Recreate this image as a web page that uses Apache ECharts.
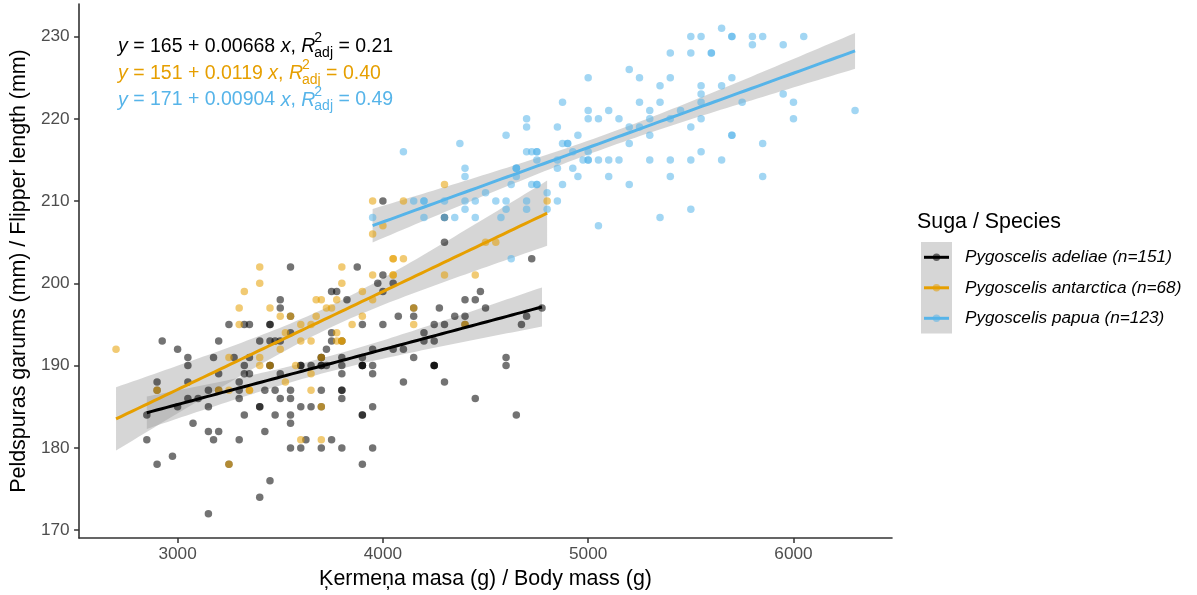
<!DOCTYPE html>
<html><head><meta charset="utf-8">
<script src="https://cdn.jsdelivr.net/npm/echarts@6/dist/echarts.min.js"></script>
<style>html,body{margin:0;padding:0;background:#fff}#c{width:1197px;height:595px}</style>
</head><body><div id="c"></div><script>
// ---------- data ----------
const speciesLabels = ['Pygoscelis adeliae (n=151)', 'Pygoscelis antarctica (n=68)', 'Pygoscelis papua (n=123)'];
const speciesColors = ['#000000', '#E69F00', '#56B4E9'];

const adelieMass = [3750,3800,3250,3450,3650,3625,4675,3475,4250,3300,3700,3200,3800,4400,3700,3450,4500,3325,4200,3400,3600,3800,3950,3800,3800,3550,3200,3150,3950,3250,3900,3300,3900,3325,4150,3950,3550,3300,4650,3150,3900,3100,4400,3000,4600,3425,2975,3450,4150,3500,4300,3450,4050,2900,3700,3550,3800,2850,3750,3150,4400,3600,4050,2850,3950,3350,4100,3050,4450,3600,3900,3550,4150,3700,4250,3700,3900,3550,4000,3200,4700,3800,4200,3350,3550,3800,3500,3950,3600,3550,4300,3400,4450,3300,4300,3700,4350,2900,4100,3725,4725,3075,4250,2925,3550,3750,3900,3175,4775,3825,4600,3200,4275,3900,4075,2900,3775,3350,3325,3150,3500,3450,3875,3050,4000,3275,4300,3050,4000,3325,3500,3500,4475,3425,3900,3175,3975,3400,4250,3400,3475,3050,3725,3000,3650,4250,3475,3450,3750,3700,4000];
const adelieFlipper = [181,186,195,193,190,181,195,193,190,186,180,182,191,198,185,195,197,184,194,174,180,189,185,180,187,183,187,172,180,178,178,188,184,195,196,190,180,181,184,182,195,186,196,185,190,182,179,190,191,186,188,190,200,187,191,186,193,181,194,185,195,185,192,184,192,195,188,190,198,190,190,196,197,190,195,191,184,187,195,189,196,187,193,191,194,190,189,189,190,202,205,185,186,187,208,190,196,178,192,192,203,183,190,193,184,199,190,181,197,198,191,193,197,191,196,188,199,189,189,187,198,176,202,186,199,191,195,191,210,190,197,193,199,187,190,191,200,185,193,193,187,188,190,192,185,190,184,195,193,187,201];

const chinstrapMass = [3500,3900,3650,3525,3725,3950,3250,3750,4150,3700,3800,3775,3700,4050,3575,4050,3300,3700,3450,4400,3600,3400,2900,3800,3300,4150,3400,3800,3700,4550,3200,4300,3350,4100,3600,3900,3850,4800,2700,4500,3950,3650,3550,3500,3675,4450,3400,4300,3250,3675,3325,3950,3600,4050,3350,3450,3250,4050,3800,3525,3950,3650,3650,4000,3400,3775,4100,3775];
const chinstrapFlipper = [192,196,193,188,197,198,178,197,195,198,193,194,185,201,190,201,197,181,190,195,181,191,187,193,195,197,200,200,191,205,187,201,187,203,195,199,195,210,192,205,210,187,196,196,196,201,190,212,187,198,199,201,193,203,187,197,191,203,202,194,206,189,195,207,202,193,210,198];

const gentooMass = [4500,5700,4450,5700,5400,4550,4800,5200,4400,5150,4650,5550,4650,5850,4200,5850,4150,6300,4800,5350,5700,5000,4400,5050,5000,5100,4100,5650,4600,5550,5250,4700,5050,6050,5150,5400,4950,5250,4350,5350,3950,5700,4300,4750,5550,4900,4200,5400,5100,5300,4850,5300,4400,5000,4900,5050,4300,5000,4450,5550,4200,5300,4400,5650,4700,5700,4650,5800,4700,5550,4750,5000,5100,5200,4700,5800,4600,6000,4750,5950,4625,5450,4725,5350,4750,5600,4600,5300,4875,5550,4950,5400,4750,5650,4850,5200,4925,4875,4625,5250,4850,5600,4975,5500,4725,5500,4700,5500,4575,5500,5000,5950,4650,5500,4375,5850,4875,6000,4925,4850,5750,5200,5400];
const gentooFlipper = [211,230,210,218,215,210,211,219,209,215,214,216,214,213,210,217,210,221,209,222,218,215,213,215,215,215,216,215,210,220,222,209,207,230,220,220,213,219,208,208,208,225,210,216,222,217,210,225,213,215,210,220,210,225,217,220,208,220,208,224,208,221,214,231,219,230,214,229,220,223,216,221,221,217,216,230,209,220,215,223,212,221,212,224,212,228,218,218,212,230,218,228,212,224,214,226,216,222,203,225,219,228,215,228,216,215,210,219,208,209,216,229,213,230,217,230,217,222,214,215,222,212,213];

const eqIntercept = ['165', '151', '171'];
const eqSlope = ['0.00668', '0.0119', '0.00904'];
const eqR2 = ['0.21', '0.40', '0.49'];

const xTickValues = [3000, 4000, 5000, 6000];
const yTickValues = [170, 180, 190, 200, 210, 220, 230];
const xTitle = 'Ķermeņa masa (g) / Body mass (g)';
const yTitle = 'Peldspuras garums (mm) / Flipper length (mm)';
const legendTitle = 'Suga / Species';

// ---------- helpers ----------
const FONT = '"Liberation Sans", Arial, sans-serif';
const groups = [[adelieMass, adelieFlipper], [chinstrapMass, chinstrapFlipper], [gentooMass, gentooFlipper]];

function tQuant(df) {
  const z = 1.959963985;
  return z + (z*z*z + z) / (4*df) + (5*Math.pow(z,5) + 16*z*z*z + 3*z) / (96*df*df)
    + (3*Math.pow(z,7) + 19*Math.pow(z,5) + 17*z*z*z - 15*z) / (384*df*df*df);
}
function fitBand(xs, ys) {
  const n = xs.length;
  let xb = 0, yb = 0;
  for (let i = 0; i < n; i++) { xb += xs[i]; yb += ys[i]; }
  xb /= n; yb /= n;
  let sxx = 0, sxy = 0;
  for (let i = 0; i < n; i++) { sxx += (xs[i]-xb)*(xs[i]-xb); sxy += (xs[i]-xb)*(ys[i]-yb); }
  const b = sxy / sxx, a = yb - b*xb;
  let sse = 0;
  for (let i = 0; i < n; i++) { const r = ys[i] - a - b*xs[i]; sse += r*r; }
  const s = Math.sqrt(sse / (n-2));
  const t = tQuant(n-2);
  const lo = Math.min(...xs), hi = Math.max(...xs);
  const out = [];
  for (let k = 0; k < 80; k++) {
    const x = lo + (hi-lo)*k/79;
    const f = a + b*x;
    const se = s*Math.sqrt(1/n + (x-xb)*(x-xb)/sxx);
    out.push([x, f, f - t*se, f + t*se]);
  }
  return out;
}
const bands = groups.map(g => fitBand(g[0], g[1]));

// ---------- series ----------
const series = [];
groups.forEach((g, i) => {
  series.push({
    type: 'scatter', name: speciesLabels[i],
    data: g[0].map((m, k) => [m, g[1][k]]),
    symbolSize: 7.5,
    itemStyle: { color: speciesColors[i], opacity: 0.55 },
    silent: true
  });
});
bands.forEach((band, i) => {
  series.push({
    type: 'custom', name: speciesLabels[i] + ' CI',
    data: band.map(b => [b[0], b[2], b[3]]),
    encode: { x: 0, y: [1, 2] },
    silent: true,
    renderItem(params, api) {
      if (params.dataIndex !== 0) return null;
      const pts = [];
      for (const b of band) pts.push(api.coord([b[0], b[3]]));
      for (let k = band.length - 1; k >= 0; k--) pts.push(api.coord([band[k][0], band[k][2]]));
      return { type: 'polygon', shape: { points: pts }, style: { fill: 'rgba(153,153,153,0.4)' } };
    }
  });
  series.push({
    type: 'line', name: speciesLabels[i] + ' fit',
    data: band.map(b => [b[0], b[1]]),
    showSymbol: false, silent: true,
    lineStyle: { color: speciesColors[i], width: 3 },
    itemStyle: { color: speciesColors[i] }
  });
});

// ---------- annotation (equations) ----------
const mctx = document.createElement('canvas').getContext('2d');
function tw(text, size, italic) {
  mctx.font = (italic ? 'italic ' : '') + size + 'px ' + FONT;
  return mctx.measureText(text).width;
}
const graphics = [];
const EQ = 19.5, SS = 14;
for (let i = 0; i < 3; i++) {
  const cy = 46.3 + i*26.9;
  let x = 118;
  const segs = [['y', true], [' = ' + eqIntercept[i] + ' + ' + eqSlope[i] + ' ', false], ['x', true], [', ', false], ['R', true]];
  for (const [t, it] of segs) {
    graphics.push({ type: 'text', x: x, y: cy, silent: true,
      style: { text: t, fill: speciesColors[i], font: (it ? 'italic ' : '') + EQ + 'px ' + FONT, textVerticalAlign: 'middle', textAlign: 'left' } });
    x += tw(t, EQ, it);
  }
  x -= 1;
  graphics.push({ type: 'text', x: x, y: cy - 8, silent: true,
    style: { text: '2', fill: speciesColors[i], font: SS + 'px ' + FONT, textVerticalAlign: 'middle' } });
  graphics.push({ type: 'text', x: x, y: cy + 6.5, silent: true,
    style: { text: 'adj', fill: speciesColors[i], font: SS + 'px ' + FONT, textVerticalAlign: 'middle' } });
  x += Math.max(tw('2', SS, false), tw('adj', SS, false));
  graphics.push({ type: 'text', x: x, y: cy, silent: true,
    style: { text: ' = ' + eqR2[i], fill: speciesColors[i], font: EQ + 'px ' + FONT, textVerticalAlign: 'middle' } });
}

// ---------- legend (drawn) ----------
graphics.push({ type: 'text', x: 917, y: 222, silent: true,
  style: { text: legendTitle, fill: '#000', font: '21.4px ' + FONT, textVerticalAlign: 'middle' } });
graphics.push({ type: 'rect', shape: { x: 921, y: 242, width: 31, height: 91.5 }, silent: true, style: { fill: '#d6d6d6' } });
for (let i = 0; i < 3; i++) {
  const cy = 257.3 + i*30.5;
  graphics.push({ type: 'line', shape: { x1: 924, y1: cy, x2: 949, y2: cy }, silent: true,
    style: { stroke: speciesColors[i], lineWidth: 3 } });
  graphics.push({ type: 'circle', shape: { cx: 936.5, cy: cy, r: 3.7 }, silent: true,
    style: { fill: speciesColors[i], opacity: 0.55 } });
  graphics.push({ type: 'text', x: 965, y: cy, silent: true,
    style: { text: speciesLabels[i], fill: '#000', font: 'italic 17.2px ' + FONT, textVerticalAlign: 'middle' } });
}

// ---------- chart ----------
const chart = echarts.init(document.getElementById('c'), null, { renderer: 'canvas' });
chart.setOption({
  animation: false,
  backgroundColor: '#ffffff',
  grid: { left: 77, right: 305, top: 4, bottom: 56 },
  xAxis: {
    type: 'value', min: 2520, max: 6480,
    name: xTitle, nameLocation: 'middle', nameGap: 30,
    nameTextStyle: { color: '#000', fontSize: 21.4, fontFamily: FONT, lineHeight: 22 },
    axisLine: { show: true, onZero: false, lineStyle: { color: '#333', width: 1.6 } },
    axisTick: { show: true, customValues: xTickValues, length: 5, lineStyle: { color: '#333', width: 1.5 } },
    axisLabel: { customValues: xTickValues, formatter: v => String(v), color: '#4D4D4D', fontSize: 17.2, fontFamily: FONT, margin: 7.5 },
    splitLine: { show: false }
  },
  yAxis: {
    type: 'value', min: 169.05, max: 233.95,
    name: yTitle, nameLocation: 'middle', nameGap: 46, nameRotate: 90,
    nameTextStyle: { color: '#000', fontSize: 21.4, fontFamily: FONT, lineHeight: 22 },
    axisLine: { show: true, onZero: false, lineStyle: { color: '#333', width: 1.6 } },
    axisTick: { show: true, customValues: yTickValues, length: 5, lineStyle: { color: '#333', width: 1.5 } },
    axisLabel: { customValues: yTickValues, formatter: v => String(v), color: '#4D4D4D', fontSize: 17.2, fontFamily: FONT, margin: 9.5 },
    splitLine: { show: false }
  },
  series: series,
  graphic: graphics
});
</script></body></html>
